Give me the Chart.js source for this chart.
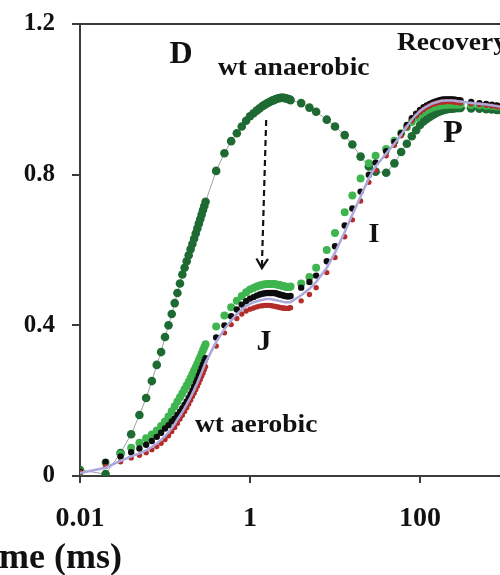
<!DOCTYPE html>
<html>
<head>
<meta charset="utf-8">
<script src="https://cdn.jsdelivr.net/npm/chart.js@4/dist/chart.umd.min.js"></script>
<style>
  html, body { margin: 0; padding: 0; background: #fff; overflow: hidden; }
  canvas { display: block; }
</style>
</head>
<body>
<canvas id="c" width="500" height="575"></canvas>
<script>
// Sampling times of the fluorescence transient (ms)
const timeMs = [
  0.01, 0.02, 0.03, 0.04, 0.05, 0.06, 0.07, 0.08, 0.09, 0.10,
  0.11, 0.12, 0.13, 0.14, 0.15, 0.16, 0.17, 0.18, 0.19, 0.20,
  0.21, 0.22, 0.23, 0.24, 0.25, 0.26, 0.27, 0.28, 0.29, 0.30,
  0.4, 0.5, 0.6, 0.7, 0.8, 0.9,
  1.0, 1.1, 1.2, 1.3, 1.4, 1.5, 1.6, 1.7, 1.8, 1.9, 2.0,
  2.1, 2.2, 2.3, 2.4, 2.5, 2.6, 2.7, 2.8, 2.9, 3.0,
  4, 5, 6, 8, 10, 13, 16, 20, 25, 30,
  40, 50, 60, 70, 80, 90, 100,
  110, 120, 130, 140, 150, 160, 170, 180, 190, 200,
  210, 220, 230, 240, 250, 260, 270, 280, 290, 300,
  400, 500, 600, 700, 800, 900
];

// Relative variable fluorescence, wt anaerobic (dark green)
const wtAnaerobic = [
  0.016, 0.005, 0.061, 0.111, 0.162, 0.207, 0.252, 0.295, 0.329, 0.369,
  0.400, 0.430, 0.459, 0.486, 0.511, 0.535, 0.553, 0.570, 0.586, 0.602,
  0.616, 0.630, 0.644, 0.657, 0.670, 0.682, 0.694, 0.706, 0.717, 0.728,
  0.810, 0.857, 0.889, 0.910, 0.928, 0.943,
  0.955, 0.963, 0.970, 0.976, 0.982, 0.986, 0.990, 0.993, 0.996, 0.998, 1.000,
  1.002, 1.003, 1.004, 1.004, 1.004, 1.003, 1.002, 1.001, 1.000, 0.998,
  0.990, 0.978, 0.967, 0.946, 0.928, 0.905, 0.880, 0.848, 0.822, 0.808,
  0.805, 0.830, 0.860, 0.882, 0.902, 0.918, 0.932,
  0.941, 0.948, 0.953, 0.958, 0.962, 0.965, 0.968, 0.970, 0.972, 0.973,
  0.974, 0.975, 0.975, 0.976, 0.976, 0.977, 0.977, 0.977, 0.977, 0.977,
  0.976, 0.975, 0.974, 0.973, 0.972, 0.971
];

// Recovery, first trace (bright green)
const recoveryEarly = [
  0.012, 0.036, 0.058, 0.075, 0.088, 0.100, 0.110, 0.121, 0.133, 0.145,
  0.158, 0.172, 0.185, 0.198, 0.209, 0.220, 0.230, 0.240, 0.250, 0.260,
  0.270, 0.280, 0.289, 0.298, 0.307, 0.316, 0.325, 0.334, 0.342, 0.350,
  0.397, 0.426, 0.448, 0.465, 0.478, 0.488,
  0.495, 0.499, 0.503, 0.506, 0.508, 0.509, 0.510, 0.510, 0.510, 0.510, 0.509,
  0.508, 0.507, 0.506, 0.505, 0.504, 0.503, 0.502, 0.502, 0.502, 0.503,
  0.511, 0.528, 0.553, 0.600, 0.645, 0.700, 0.745, 0.790, 0.830, 0.850,
  0.868, 0.890, 0.910, 0.926, 0.940, 0.951, 0.960,
  0.966, 0.971, 0.975, 0.978, 0.980, 0.982, 0.983, 0.984, 0.985, 0.985,
  0.986, 0.986, 0.986, 0.986, 0.986, 0.986, 0.986, 0.986, 0.986, 0.986,
  0.985, 0.984, 0.983, 0.982, 0.981, 0.980
];

// Recovery, second trace (black)
const recoveryMid = [
  0.012, 0.037, 0.052, 0.063, 0.073, 0.083, 0.093, 0.104, 0.115, 0.126,
  0.135, 0.145, 0.153, 0.162, 0.171, 0.180, 0.189, 0.198, 0.207, 0.217,
  0.227, 0.237, 0.247, 0.257, 0.267, 0.277, 0.287, 0.296, 0.305, 0.313,
  0.368, 0.400, 0.424, 0.442, 0.455, 0.464,
  0.471, 0.475, 0.479, 0.482, 0.484, 0.485, 0.486, 0.486, 0.486, 0.486, 0.485,
  0.484, 0.482, 0.481, 0.480, 0.479, 0.478, 0.477, 0.477, 0.477, 0.478,
  0.500, 0.515, 0.532, 0.570, 0.610, 0.665, 0.710, 0.755, 0.800, 0.832,
  0.862, 0.887, 0.910, 0.932, 0.950, 0.962, 0.972,
  0.979, 0.984, 0.988, 0.991, 0.994, 0.996, 0.998, 0.999, 1.000, 1.000,
  1.000, 1.000, 1.000, 1.000, 0.999, 0.999, 0.998, 0.998, 0.997, 0.997,
  0.993, 0.990, 0.988, 0.986, 0.984, 0.982
];

// Recovery, third trace (red)
const recoveryLate = [
  0.010, 0.025, 0.038, 0.048, 0.055, 0.062, 0.070, 0.078, 0.087, 0.097,
  0.107, 0.118, 0.129, 0.140, 0.151, 0.161, 0.171, 0.181, 0.191, 0.201,
  0.211, 0.220, 0.229, 0.238, 0.247, 0.256, 0.265, 0.273, 0.282, 0.290,
  0.345, 0.380, 0.402, 0.418, 0.430, 0.438,
  0.443, 0.446, 0.449, 0.451, 0.452, 0.453, 0.453, 0.453, 0.452, 0.451, 0.450,
  0.449, 0.448, 0.447, 0.446, 0.446, 0.445, 0.445, 0.445, 0.446, 0.447,
  0.465, 0.482, 0.500, 0.540, 0.580, 0.635, 0.680, 0.730, 0.780, 0.812,
  0.850, 0.878, 0.903, 0.925, 0.943, 0.956, 0.966,
  0.973, 0.979, 0.983, 0.987, 0.989, 0.991, 0.992, 0.993, 0.993, 0.994,
  0.994, 0.994, 0.994, 0.994, 0.993, 0.993, 0.992, 0.992, 0.991, 0.991,
  0.988, 0.986, 0.984, 0.982, 0.980, 0.978
];

// wt aerobic reference trace (lavender line)
const wtAerobic = [
  0.008, 0.022, 0.040, 0.052, 0.060, 0.068, 0.077, 0.086, 0.096, 0.106,
  0.116, 0.127, 0.138, 0.150, 0.160, 0.170, 0.180, 0.190, 0.200, 0.209,
  0.219, 0.228, 0.238, 0.247, 0.257, 0.266, 0.275, 0.284, 0.293, 0.301,
  0.356, 0.390, 0.413, 0.430, 0.442, 0.451,
  0.457, 0.461, 0.464, 0.466, 0.468, 0.469, 0.470, 0.470, 0.469, 0.468, 0.467,
  0.466, 0.465, 0.464, 0.463, 0.462, 0.461, 0.461, 0.461, 0.461, 0.462,
  0.480, 0.497, 0.515, 0.553, 0.593, 0.648, 0.694, 0.742, 0.790, 0.822,
  0.856, 0.882, 0.906, 0.928, 0.946, 0.959, 0.969,
  0.976, 0.981, 0.985, 0.989, 0.991, 0.993, 0.995, 0.996, 0.996, 0.997,
  0.997, 0.997, 0.997, 0.997, 0.996, 0.996, 0.995, 0.995, 0.994, 0.994,
  0.990, 0.988, 0.986, 0.984, 0.982, 0.980
];

const xTickValues = [0.01, 1, 100];
const yTickValues = [0, 0.4, 0.8, 1.2];

// Text labels placed in data coordinates (time in ms, relative fluorescence)
const labelTexts = ['D', 'wt anaerobic', 'Recovery', 'P', 'I', 'J', 'wt aerobic'];
const labelTimes = [0.154, 0.42, 53.6, 244, 28.8, 1.46, 0.225];
const labelValues = [1.096, 1.065, 1.131, 0.887, 0.621, 0.334, 0.117];
const labelSizes = [32, 25, 25, 32, 28, 30, 25];
const labelStretch = [1, 1.1, 1.1, 1, 1, 1, 1.1];
const labelAligns = ['center', 'left', 'left', 'center', 'center', 'center', 'left'];

// Recovery arrow: from the anaerobic peak down to the J step
const arrowTimes = [1.55, 1.38];
const arrowValues = [0.945, 0.552];

const SERIF = '"Liberation Serif", "Times New Roman", serif';
const AXIS_COLOR = '#3c3c3c';
const TEXT_COLOR = '#111111';

function points(values) {
  return timeMs.map((t, i) => ({ x: t, y: values[i] }));
}

const annotationPlugin = {
  id: 'annotations',
  afterDatasetsDraw(chart) {
    const { ctx, scales } = chart;
    const xs = scales.x, ys = scales.y;
    ctx.save();
    ctx.fillStyle = TEXT_COLOR;
    ctx.textBaseline = 'alphabetic';
    labelTexts.forEach((txt, i) => {
      ctx.save();
      ctx.font = `bold ${labelSizes[i]}px ${SERIF}`;
      ctx.textAlign = labelAligns[i];
      ctx.translate(xs.getPixelForValue(labelTimes[i]), ys.getPixelForValue(labelValues[i]));
      ctx.scale(labelStretch[i], 1);
      ctx.fillText(txt, 0, 0);
      ctx.restore();
    });

    // dashed arrow
    const x0 = xs.getPixelForValue(arrowTimes[0]), y0 = ys.getPixelForValue(arrowValues[0]);
    const x1 = xs.getPixelForValue(arrowTimes[1]), y1 = ys.getPixelForValue(arrowValues[1]);
    ctx.strokeStyle = '#111';
    ctx.lineWidth = 2.2;
    ctx.setLineDash([6, 4]);
    ctx.beginPath();
    ctx.moveTo(x0, y0);
    ctx.lineTo(x1, y1 - 2);
    ctx.stroke();
    ctx.setLineDash([]);
    const ang = Math.atan2(y1 - y0, x1 - x0);
    const len = 11, spread = 0.55;
    ctx.beginPath();
    ctx.moveTo(x1 - len * Math.cos(ang - spread), y1 - len * Math.sin(ang - spread));
    ctx.lineTo(x1, y1);
    ctx.lineTo(x1 - len * Math.cos(ang + spread), y1 - len * Math.sin(ang + spread));
    ctx.stroke();

    // x-axis title
    ctx.font = `bold 36px ${SERIF}`;
    ctx.textAlign = 'right';
    ctx.fillText('Time (ms)', 122, 568);
    ctx.restore();
  }
};

new Chart(document.getElementById('c'), {
  type: 'scatter',
  data: {
    datasets: [
      {
        label: 'wt aerobic',
        data: points(wtAerobic),
        showLine: true,
        borderColor: '#aaa8dc',
        borderWidth: 2.5,
        pointRadius: 0,
        order: 0
      },
      {
        label: 'recovery 3',
        data: points(recoveryLate),
        showLine: false,
        pointRadius: 2.7,
        pointBackgroundColor: '#b32c29',
        pointBorderColor: '#b32c29',
        pointBorderWidth: 0,
        order: 1
      },
      {
        label: 'recovery 2',
        data: points(recoveryMid),
        showLine: false,
        pointRadius: 3.2,
        pointBackgroundColor: '#0d0d0d',
        pointBorderColor: '#0d0d0d',
        pointBorderWidth: 0,
        order: 2
      },
      {
        label: 'recovery 1',
        data: points(recoveryEarly),
        showLine: false,
        pointRadius: 4,
        pointBackgroundColor: '#3fb54f',
        pointBorderColor: '#3fb54f',
        pointBorderWidth: 0,
        order: 3
      },
      {
        label: 'wt anaerobic',
        data: points(wtAnaerobic),
        showLine: true,
        borderColor: '#a0a0a0',
        borderWidth: 1,
        pointRadius: 4.3,
        pointBackgroundColor: '#1e6a33',
        pointBorderColor: '#1e6a33',
        pointBorderWidth: 0,
        order: 4
      }
    ]
  },
  options: {
    responsive: false,
    animation: false,
    layout: { autoPadding: false, padding: { top: 24, right: 0, bottom: 0, left: 0 } },
    plugins: { legend: { display: false }, tooltip: { enabled: false } },
    scales: {
      x: {
        type: 'logarithmic',
        position: 'bottom',
        min: 0.01,
        max: 873,
        afterBuildTicks: s => { s.ticks = xTickValues.map(v => ({ value: v })); },
        afterFit: s => { s.height = 99; s.paddingLeft = 0; s.paddingRight = 0; },
        grid: { drawOnChartArea: false, drawTicks: true, tickLength: 7, color: AXIS_COLOR, lineWidth: 2 },
        border: { display: true, color: AXIS_COLOR, width: 2 },
        ticks: {
          autoSkip: false, maxRotation: 0, padding: 19, color: TEXT_COLOR,
          font: { family: SERIF, size: 28, weight: 'bold' },
          callback: v => String(v)
        }
      },
      xTop: {
        type: 'logarithmic',
        position: 'top',
        min: 0.01,
        max: 873,
        afterFit: s => { s.height = 0; s.paddingLeft = 0; s.paddingRight = 0; },
        grid: { display: false, drawTicks: false, tickLength: 0 },
        ticks: { display: false },
        border: { display: true, color: AXIS_COLOR, width: 2 }
      },
      y: {
        min: 0,
        max: 1.2,
        afterBuildTicks: s => { s.ticks = yTickValues.map(v => ({ value: v })); },
        afterFit: s => { s.width = 80; s.paddingTop = 0; s.paddingBottom = 0; },
        grid: { drawOnChartArea: false, drawTicks: true, tickLength: 8, color: AXIS_COLOR, lineWidth: 2 },
        border: { display: true, color: AXIS_COLOR, width: 2 },
        ticks: {
          padding: 17, color: TEXT_COLOR,
          font: { family: SERIF, size: 25, weight: 'bold' },
          callback: v => String(v)
        }
      }
    }
  },
  plugins: [annotationPlugin]
});
</script>
</body>
</html>
